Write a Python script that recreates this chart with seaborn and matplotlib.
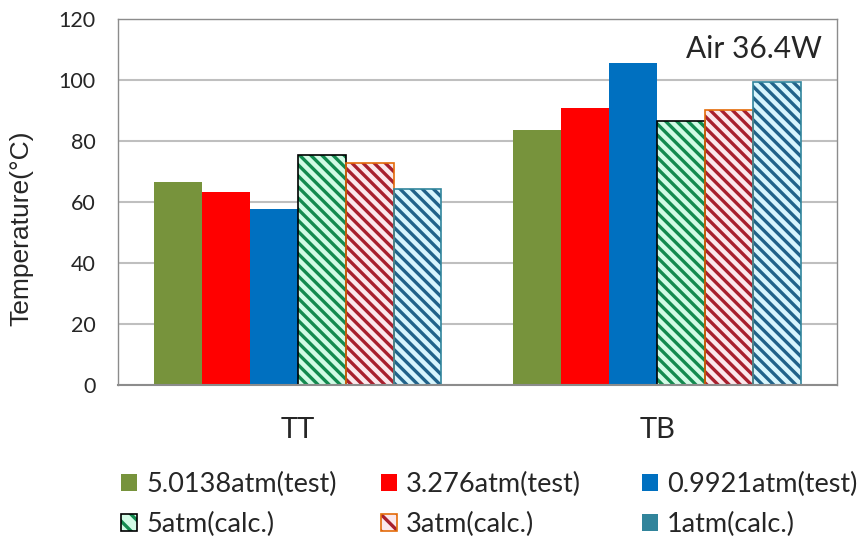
import pandas as pd
import numpy as np
import matplotlib.pyplot as plt
import matplotlib.patches as mpatches
from matplotlib.legend_handler import HandlerTuple
import seaborn as sns

sns.set_style("white")
plt.rcParams["font.family"] = ["Lato", "DejaVu Sans"]
plt.rcParams["hatch.linewidth"] = 2.4

# ---------------- data ----------------
groups = ["TT", "TB"]
series = ["5.0138atm(test)", "3.276atm(test)", "0.9921atm(test)",
          "5atm(calc.)", "3atm(calc.)", "1atm(calc.)"]
tt_vals = [66.5, 63.2, 57.6, 75.3, 72.8, 64.4]
tb_vals = [83.7, 90.7, 105.7, 86.7, 90.2, 99.5]

# solid colours for tests, pale fills + stripes for calc
face_colors = ["#77933c", "#ff0000", "#0070c0", "#d2fbe6", "#fbe8ec", "#d8f6fd"]
hatch_colors = [None, None, None, "#138a4f", "#a8202e", "#21638a"]
border_colors = [None, None, None, "#000000", "#e46c0a", "#31859c"]
legend_teal = "#31849b"

df = pd.DataFrame({
    "group": np.repeat(groups, len(series)),
    "series": series * len(groups),
    "temp": tt_vals + tb_vals,
})

# ---------------- plot ----------------
fig = plt.figure(figsize=(8.61, 5.45), dpi=100)
ax = fig.add_axes([0.137, 0.2936, 0.835, 0.6714])

sns.barplot(data=df, x="group", y="temp", hue="series", hue_order=series,
            palette=face_colors, saturation=1, width=0.8, errorbar=None,
            legend=False, ax=ax)

hatch = "\\\\\\"
for i, cont in enumerate(ax.containers):
    for bar in cont:
        bar.set_linewidth(0)
        if hatch_colors[i] is not None:
            bar.set_hatch(hatch)
            bar.set_edgecolor(hatch_colors[i])
            # outline drawn separately so it can differ from the stripe colour
            ax.add_patch(mpatches.Rectangle((bar.get_x(), bar.get_y()), bar.get_width(),
                                            bar.get_height(), fill=False,
                                            edgecolor=border_colors[i], linewidth=1.2,
                                            zorder=bar.get_zorder() + 0.1))

ax.set_ylim(0, 120)
ax.set_yticks(range(0, 121, 20))
ax.set_xlim(-0.5, 1.5)
ax.yaxis.grid(True, color="#bfbfbf", linewidth=1.5)
ax.set_axisbelow(True)
for s in ax.spines.values():
    s.set_color("#8c8c8c")
    s.set_linewidth(1.0)
ax.spines["bottom"].set_linewidth(1.5)

ax.tick_params(axis="y", length=0, labelsize=15.5, pad=16)
ax.tick_params(axis="x", length=0, labelsize=21, pad=23)
ax.set_xlabel("")
ax.set_ylabel("Temperature(°C)", fontsize=19,
              family=["Liberation Sans", "DejaVu Sans"])
ax.yaxis.set_label_coords(-0.118, 0.427)

ax.text(0.979, 0.893, "Air 36.4W", transform=ax.transAxes, ha="right", va="baseline",
        fontsize=21.5)

# legend: three single-column legends, row-wise order as in the original
handles = []
for i, name in enumerate(series):
    if hatch_colors[i] is None:
        handles.append(mpatches.Patch(facecolor=face_colors[i], edgecolor="none"))
    elif i == len(series) - 1:
        handles.append(mpatches.Patch(facecolor=legend_teal, edgecolor="none"))
    else:
        stripe = mpatches.Patch(facecolor=face_colors[i], edgecolor=hatch_colors[i],
                                hatch="\\\\", linewidth=0)
        frame = mpatches.Patch(fill=False, edgecolor=border_colors[i], linewidth=1.2)
        handles.append((stripe, frame))

col_x = [121 / 861, 381 / 861, 642 / 861]
for c in range(3):
    leg = fig.legend([handles[c], handles[c + 3]], [series[c], series[c + 3]],
                     loc="upper left", bbox_to_anchor=(col_x[c], 0.134),
                     frameon=False, fontsize=19.5, handlelength=0.6, handleheight=0.6,
                     handletextpad=0.33, labelspacing=0.54, borderpad=0, borderaxespad=0,
                     handler_map={tuple: HandlerTuple(ndivide=1, pad=0)})

fig.savefig("out.png", dpi=100)
